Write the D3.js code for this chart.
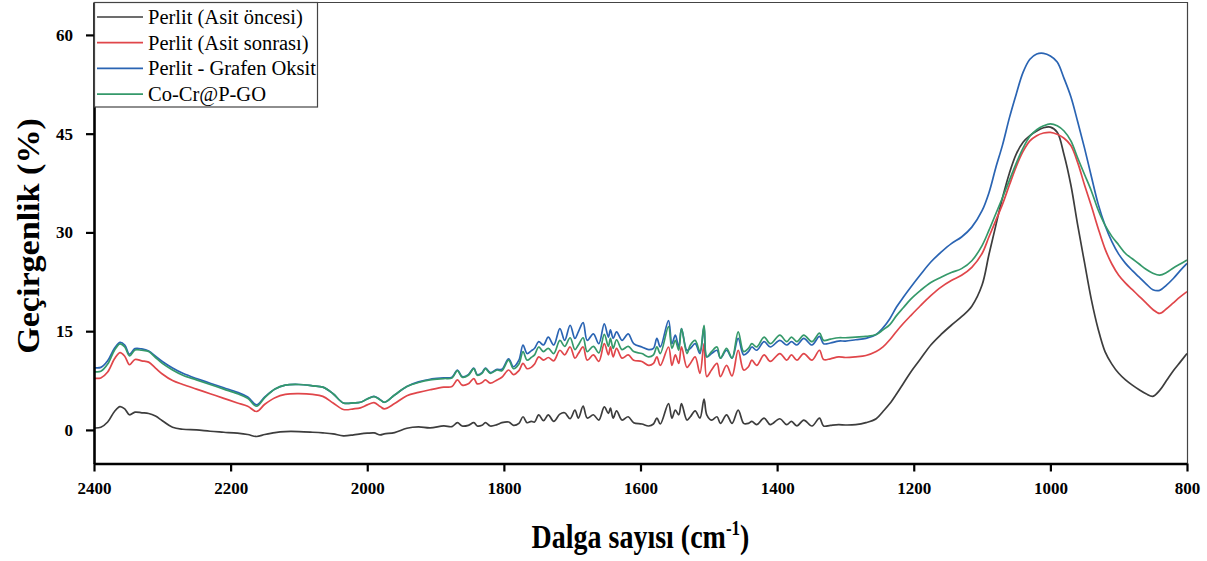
<!DOCTYPE html>
<html>
<head>
<meta charset="utf-8">
<script src="https://cdn.jsdelivr.net/npm/d3@7"></script>
<style>
  body { margin: 0; background: #fff; }
  svg { display: block; }
</style>
</head>
<body>
<svg id="chart" width="1207" height="561"></svg>
<script>
// Wavenumbers (cm-1), shared by all four spectra
const wavenumbers = [
  2400, 2390, 2380, 2370, 2362, 2355, 2348, 2340, 2330, 2320,
  2310, 2300, 2285, 2270, 2250, 2230, 2210, 2190, 2175, 2162,
  2150, 2135, 2120, 2100, 2080, 2065, 2050, 2035, 2020, 2010,
  2000, 1990, 1981, 1975, 1960, 1942, 1925,
  1908, 1888, 1876, 1868, 1861, 1852, 1844, 1839, 1832, 1827,
  1820, 1810, 1803, 1793, 1786, 1778, 1772, 1766, 1760, 1755,
  1749, 1742, 1735, 1727, 1718, 1711, 1703, 1696, 1691, 1684,
  1678, 1669, 1661, 1653, 1647, 1644, 1640, 1635, 1627, 1618,
  1610, 1598, 1588, 1581, 1576, 1571, 1559, 1554, 1549, 1544,
  1540, 1532, 1527, 1520, 1513, 1507, 1503, 1496, 1488, 1483,
  1474, 1466, 1457, 1449, 1442, 1437, 1430, 1419, 1410, 1396,
  1386, 1379, 1371, 1361, 1349, 1338, 1332, 1322,
  1310, 1300, 1285, 1270, 1255, 1245, 1235, 1225, 1215, 1205,
  1190, 1175, 1160, 1145, 1130, 1115, 1100, 1090, 1080, 1070,
  1060, 1050, 1040, 1030, 1020, 1010, 1000, 990, 980, 970,
  960, 950, 940, 930, 920, 910, 900, 890, 880, 870,
  860, 850, 840, 830, 820, 810, 800
];

// Transmittance (%) — Perlit (Asit öncesi)
const perlitBefore = [
  0.3, 0.4, 1.2, 2.8, 3.55, 3.2, 2.3, 2.7, 2.6, 2.5,
  2.1, 1.4, 0.4, 0.1, 0.0, -0.2, -0.35, -0.5, -0.7, -1.0,
  -0.7, -0.4, -0.25, -0.25, -0.35, -0.45, -0.6, -0.9, -0.75, -0.6,
  -0.5, -0.45, -0.75, -0.6, -0.4, 0.25, 0.45,
  0.3, 0.6, 0.5, 1.1, 0.6, 0.7, 1.1, 0.6, 0.7, 1.1,
  0.6, 0.8, 1.1, 1.2, 0.7, 1.0, 2.0, 1.1, 1.3, 1.2,
  2.3, 1.4, 2.3, 1.3, 2.4, 2.6, 1.7, 3.0, 1.8, 3.6,
  1.8, 2.3, 1.5, 3.5, 2.5, 3.3, 1.8, 2.9, 1.5, 2.0,
  1.1, 0.9, 0.6, 0.9, 1.8, 0.9, 4.0, 1.8, 3.0, 2.3,
  4.0, 1.5, 2.0, 2.9, 1.8, 4.7, 2.3, 1.5, 2.0, 1.0,
  2.3, 1.0, 3.0, 1.0, 1.0, 1.3, 0.8, 1.8, 0.8, 1.7,
  0.8, 1.3, 0.6, 1.5, 0.6, 1.8, 0.6, 0.7,
  0.8, 0.75, 0.8, 1.1, 1.7, 2.8, 4.0, 5.5, 7.1, 8.7,
  10.8, 12.9, 14.5, 15.9, 17.2, 18.8, 22.0, 26.6, 31.0, 35.3,
  39.0, 41.9, 43.7, 44.7, 45.4, 45.9, 46.0, 45.2, 41.8, 37.2,
  31.1, 25.4, 19.8, 15.3, 11.9, 10.0, 8.6, 7.6, 6.8, 6.1,
  5.5, 5.1, 6.0, 7.5, 9.0, 10.3, 11.6
];

// Transmittance (%) — Perlit (Asit sonrası)
const perlitAfter = [
  7.85, 7.9, 8.8, 10.8, 11.75, 11.2, 9.9, 10.7, 10.5, 10.3,
  9.4, 8.5, 7.5, 6.9, 6.2, 5.5, 4.8, 4.1, 3.6, 2.8,
  3.9, 4.9, 5.4, 5.5, 5.4, 5.1, 4.1, 3.1, 3.2, 3.35,
  3.8, 4.15, 3.55, 3.2, 4.0, 5.2, 5.7,
  6.1, 6.5, 6.6, 7.6, 6.8, 7.0, 7.8, 7.0, 7.2, 7.6,
  7.1, 7.6, 8.0, 9.1, 8.4, 9.0, 10.1, 9.3, 9.5, 10.0,
  11.1, 10.6, 11.0, 10.5, 12.1, 11.4, 12.6, 10.9, 11.6, 12.6,
  10.6, 11.4, 10.4, 13.1, 11.4, 12.6, 11.1, 12.4, 10.9, 11.4,
  10.6, 10.4, 9.8, 10.1, 11.1, 9.8, 12.6, 9.8, 11.4, 10.1,
  12.6, 9.5, 10.1, 11.1, 8.6, 13.1, 8.1, 9.1, 10.1, 8.1,
  9.8, 8.2, 12.1, 9.1, 9.6, 10.6, 9.8, 11.4, 10.4, 11.6,
  10.6, 11.4, 10.6, 11.6, 10.6, 12.1, 10.7, 10.8,
  11.1, 11.0, 11.1, 11.3, 11.9, 12.6, 13.7, 15.0, 16.2, 17.3,
  18.9, 20.4, 21.7, 22.7, 23.5, 24.7, 26.8, 29.3, 31.8, 34.3,
  37.2, 40.0, 42.3, 43.9, 44.7, 45.1, 45.2, 44.9, 44.3, 43.2,
  40.6, 37.2, 34.0, 30.6, 27.5, 25.2, 23.5, 22.3, 21.3, 20.3,
  19.3, 18.3, 17.7, 18.4, 19.3, 20.2, 21.0
];

// Transmittance (%) — Perlit - Grafen Oksit
const perlitGO = [
  9.45, 9.5, 10.5, 12.4, 13.3, 12.9, 11.5, 12.35, 12.3, 12.0,
  11.2, 10.4, 9.4, 8.6, 7.8, 7.1, 6.4, 5.7, 5.0, 3.8,
  5.0, 6.2, 6.8, 6.9, 6.7, 6.5, 5.5, 4.1, 4.1, 4.2,
  4.7, 5.1, 4.6, 4.2, 5.3, 6.6, 7.3,
  7.7, 7.9, 8.0, 9.1, 8.1, 8.4, 9.4, 8.4, 8.7, 9.4,
  8.7, 9.2, 9.2, 10.8, 9.6, 10.6, 12.9, 11.6, 12.0, 12.4,
  13.4, 12.9, 14.1, 12.9, 15.4, 13.6, 15.9, 13.9, 14.9, 16.3,
  13.6, 14.6, 13.1, 16.1, 14.1, 15.2, 13.9, 14.9, 13.6, 14.6,
  13.1, 12.6, 12.2, 12.4, 13.9, 12.6, 16.6, 13.1, 14.4, 12.6,
  15.4, 12.1, 12.4, 13.1, 11.6, 15.7, 11.1, 11.6, 12.1, 10.9,
  12.1, 10.9, 13.9, 11.4, 11.9, 12.6, 12.1, 13.4, 12.6, 13.6,
  12.9, 13.4, 12.9, 13.9, 12.9, 14.2, 13.1, 13.2,
  13.5, 13.5, 13.7, 13.9, 14.5, 15.5, 16.9, 18.7, 20.2, 21.6,
  23.6, 25.5, 27.0, 28.3, 29.3, 30.8, 33.3, 36.0, 39.8, 43.3,
  47.4, 51.0, 54.3, 56.3, 57.1, 57.2, 56.8, 55.9, 53.4, 50.6,
  46.8, 42.8, 38.5, 34.3, 31.1, 28.6, 26.7, 25.3, 24.2, 23.2,
  22.2, 21.3, 21.2, 22.0, 23.0, 24.2, 25.3
];

// Transmittance (%) — Co-Cr@P-GO
const coCrPGO = [
  8.86, 8.9, 10.0, 12.1, 13.06, 12.6, 11.24, 12.15, 12.1, 11.9,
  11.0, 10.1, 9.1, 8.3, 7.6, 6.9, 6.2, 5.5, 4.8, 3.6,
  4.9, 6.2, 6.8, 6.9, 6.7, 6.5, 5.5, 4.1, 4.1, 4.2,
  4.7, 5.06, 4.56, 4.2, 5.3, 6.6, 7.2,
  7.6, 7.8, 7.9, 9.0, 8.0, 8.3, 9.3, 8.3, 8.6, 9.3,
  8.6, 9.1, 9.0, 10.6, 9.3, 10.0, 11.9, 10.6, 11.0, 11.4,
  12.6, 11.9, 12.4, 11.6, 13.6, 12.7, 14.0, 12.2, 12.9, 14.0,
  11.9, 12.7, 11.7, 14.5, 12.7, 13.9, 12.4, 13.7, 12.2, 12.7,
  11.9, 11.6, 11.1, 11.4, 12.6, 11.6, 15.7, 12.4, 13.6, 12.1,
  15.4, 11.6, 12.9, 13.6, 11.9, 15.9, 11.1, 11.9, 12.6, 10.9,
  12.4, 10.9, 14.9, 11.9, 12.4, 13.1, 12.6, 14.1, 13.1, 14.4,
  13.4, 14.1, 13.4, 14.4, 13.4, 14.7, 13.6, 13.8,
  14.0, 14.0, 14.1, 14.2, 14.5, 15.2, 16.0, 17.4, 18.6, 19.8,
  21.2, 22.4, 23.2, 23.9, 24.5, 25.7, 28.0, 30.3, 32.8, 35.3,
  37.9, 40.5, 42.8, 44.6, 45.6, 46.2, 46.5, 46.2, 45.4, 43.9,
  41.3, 38.8, 36.3, 33.4, 31.1, 29.4, 28.1, 26.8, 26.0, 25.2,
  24.4, 23.8, 23.5, 23.9, 24.6, 25.2, 25.8
];

const seriesNames = [
  "Perlit (Asit öncesi)",
  "Perlit (Asit sonrası)",
  "Perlit - Grafen Oksit",
  "Co-Cr@P-GO"
];
const seriesColors = ["#3d3d3d", "#e0464a", "#2a64b3", "#35996a"];
const xTickValues = [2400, 2200, 2000, 1800, 1600, 1400, 1200, 1000, 800];
const yTickValues = [0, 15, 30, 45, 60];

const series = [perlitBefore, perlitAfter, perlitGO, coCrPGO].map((vals, i) => ({
  name: seriesNames[i],
  color: seriesColors[i],
  points: wavenumbers.map((w, j) => ({ w, v: vals[j] }))
}));

const svg = d3.select("#chart");
const plot = { left: 94, right: 1187, top: 2, bottom: 463.5 };

const x = d3.scaleLinear().domain([2400, 800]).range([plot.left, plot.right]);
const y = d3.scaleLinear().domain([-5.1, 65]).range([plot.bottom, plot.top]);

const serif = "'Liberation Serif', 'Times New Roman', serif";

// spectra
const line = d3.line()
  .x(d => x(d.w))
  .y(d => y(d.v))
  .curve(d3.curveCatmullRom.alpha(0.5));

svg.append("g")
  .selectAll("path")
  .data(series)
  .join("path")
  .attr("fill", "none")
  .attr("stroke", d => d.color)
  .attr("stroke-width", 1.7)
  .attr("stroke-linejoin", "round")
  .attr("d", d => line(d.points));

// thin top and right frame
svg.append("path")
  .attr("d", `M${plot.left},${plot.top + 0.5}H${plot.right + 0.5}V${plot.bottom}`)
  .attr("fill", "none")
  .attr("stroke", "#444")
  .attr("stroke-width", 1.2);

// axes
const xAxis = svg.append("g")
  .attr("transform", `translate(0,${plot.bottom})`)
  .call(d3.axisBottom(x).tickValues(xTickValues).tickFormat(d3.format("d"))
    .tickSize(8).tickSizeOuter(0).tickPadding(10));

const yAxis = svg.append("g")
  .attr("transform", `translate(${plot.left},0)`)
  .call(d3.axisLeft(y).tickValues(yTickValues).tickFormat(d3.format("d"))
    .tickSize(8).tickSizeOuter(0).tickPadding(13));

[xAxis, yAxis].forEach(g => {
  g.select(".domain").attr("stroke", "#000").attr("stroke-width", 2.6);
  g.selectAll(".tick line").attr("stroke", "#000").attr("stroke-width", 2.2);
  g.selectAll(".tick text")
    .attr("fill", "#000")
    .style("font-family", serif)
    .style("font-weight", "bold")
    .style("font-size", "17px");
});

// axis titles
const xTitle = svg.append("text")
  .attr("transform", `translate(${(plot.left + plot.right) / 2},548) scale(1,1.2)`)
  .attr("text-anchor", "middle")
  .style("font-family", serif)
  .style("font-weight", "bold")
  .style("font-size", "28px")
  .attr("fill", "#000");
xTitle.append("tspan").text("Dalga sayısı (cm");
xTitle.append("tspan").attr("dy", -11).style("font-size", "17px").text("-1");
xTitle.append("tspan").attr("dy", 11).text(")");

svg.append("text")
  .attr("transform", `translate(39,236) rotate(-90) scale(1.1,1)`)
  .attr("text-anchor", "middle")
  .style("font-family", serif)
  .style("font-weight", "bold")
  .style("font-size", "31px")
  .attr("fill", "#000")
  .text("Geçirgenlik (%)");

// legend
const legend = svg.append("g");
legend.append("rect")
  .attr("x", plot.left + 0.5).attr("y", plot.top + 0.5)
  .attr("width", 223).attr("height", 104.5)
  .attr("fill", "#fff")
  .attr("stroke", "#444")
  .attr("stroke-width", 1.2);

const rows = legend.selectAll("g.row")
  .data(series)
  .join("g")
  .attr("class", "row")
  .attr("transform", (d, i) => `translate(0,${17 + i * 25.7})`);

rows.append("line")
  .attr("x1", 97).attr("x2", 143)
  .attr("stroke", d => d.color)
  .attr("stroke-width", 1.7);

rows.append("text")
  .attr("x", 148)
  .attr("y", 6.8)
  .style("font-family", serif)
  .style("font-size", "20.5px")
  .attr("fill", "#000")
  .text(d => d.name);
</script>
</body>
</html>
